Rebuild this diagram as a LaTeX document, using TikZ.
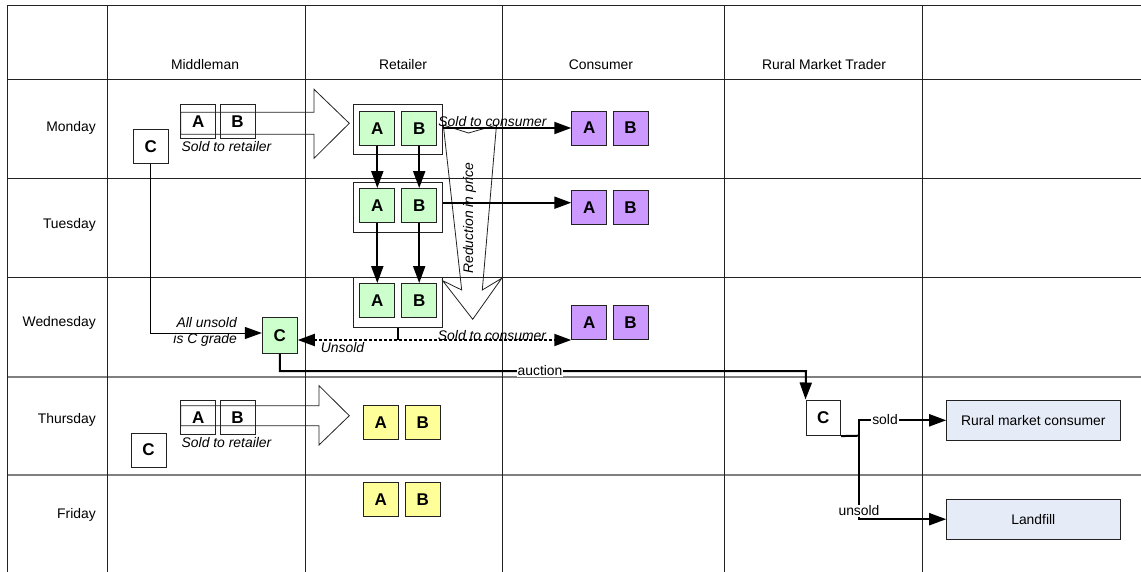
\documentclass[tikz,border=0pt]{standalone}
\usepackage{fontspec}
\setmainfont{Liberation Sans}
\usetikzlibrary{arrows.meta}
\definecolor{lgreen}{HTML}{CCFFCC}
\definecolor{lpurple}{HTML}{CC99FF}
\definecolor{lyellow}{HTML}{FFFF99}
\definecolor{lblue}{HTML}{E6ECF7}
\definecolor{gline}{HTML}{222222}
\definecolor{gline2}{HTML}{808080}
\begin{document}
\begin{tikzpicture}[x=1pt,y=-1pt,
  txt/.style={font=\fontsize{13.9}{16.7}\selectfont, inner sep=0pt},
  itx/.style={font=\fontsize{13.9}{16.7}\selectfont\itshape, inner sep=0pt},
  lbl/.style={font=\fontsize{13.9}{16.7}\selectfont, inner sep=1pt, fill=white},
  lbox/.style={draw=gline, line width=0.9pt, inner sep=0pt, minimum width=35pt, minimum height=34pt, font=\fontsize{17}{18}\selectfont\bfseries},
  wbox/.style={lbox, fill=white},
  gbox/.style={lbox, fill=lgreen},
  pbox/.style={lbox, fill=lpurple},
  ybox/.style={lbox, fill=lyellow},
  obox/.style={draw=gline, line width=0.9pt, inner sep=0pt, minimum width=89.4pt, minimum height=50pt},
  dbox/.style={draw=gline, line width=0.9pt, fill=lblue, inner sep=0pt, minimum width=173.3pt, minimum height=39.5pt, font=\fontsize{13.9}{16.7}\selectfont},
  gridl/.style={draw=gline, line width=0.9pt},
  gridg/.style={draw=gline2, line width=1.5pt},
  blk/.style={draw=gline, line width=0.8pt},
  arr/.style={line width=2pt, -{Triangle[length=17pt,width=12pt]}},
  tharr/.style={line width=1pt, -{Triangle[length=17pt,width=12pt]}},
  dotarr/.style={line width=2pt, dash pattern=on 3pt off 2pt, {Triangle[length=17pt,width=12pt]}-{Triangle[length=17pt,width=12pt]}}
]
\useasboundingbox (0,0) rectangle (1141,572);
\fill[white] (0,0) rectangle (1141,572);
% grid
\draw[gridl] (7,5) -- (1141,5);
\draw[gridl] (7,79) -- (1141,79);
\draw[gridl] (7,178) -- (1141,178);
\draw[gridl] (7,277) -- (1141,277);
\draw[gridg] (7,377) -- (1141,377);
\draw[gridg] (7,475) -- (1141,475);
\foreach \xx in {7,107,305,502,724,922} \draw[gridl] (\xx,5) -- (\xx,572);
% headers
\node[txt] (hMid) at (205,65) {Middleman};
\node[txt] (hRet) at (403,65) {Retailer};
\node[txt] (hCon) at (601,65) {Consumer};
\node[txt] (hRMT) at (824,65) {Rural Market Trader};
\node[txt, anchor=east] (dMon) at (96,128) {Monday};
\node[txt, anchor=east] (dTue) at (96,225) {Tuesday};
\node[txt, anchor=east] (dWed) at (96,323) {Wednesday};
\node[txt, anchor=east] (dThu) at (96,420) {Thursday};
\node[txt, anchor=east] (dFri) at (96,515) {Friday};
% Monday middleman
\node[wbox] (mA) at (198.2,121.3) {A};
\node[wbox] (mB) at (237.5,121.3) {B};
\node[wbox] (mC) at (150.8,146.2) {C};
\draw[blk] (180.7,112.3) -- (314,112.3) -- (314,89.3) -- (349.3,123.3) -- (314,158.3) -- (314,134.3) -- (180.7,134.3) -- cycle;
\node[itx, anchor=west] (sMon) at (181.5,146.7) {Sold to retailer};
% Thursday middleman
\node[wbox] (tA) at (198.2,417.9) {A};
\node[wbox] (tB) at (237.5,417.9) {B};
\node[wbox] (tC) at (148.5,450) {C};
\draw[blk] (180.7,405.7) -- (319,405.7) -- (319,385.7) -- (349.3,415.7) -- (319,445) -- (319,425.7) -- (180.7,425.7) -- cycle;
\node[itx, anchor=west] (sThu) at (181.5,442.3) {Sold to retailer};
% retailer
\node[obox] (rMon) at (398,129.2) {};
\node[gbox] (rMA) at (377.3,128.7) {A};
\node[gbox] (rMB) at (419.2,128.7) {B};
\node[obox] (rTue) at (398,207.3) {};
\node[gbox] (rTA) at (377.3,205.5) {A};
\node[gbox] (rTB) at (419.2,205.5) {B};
\node[obox] (rWed) at (398,302.5) {};
\node[gbox] (rWA) at (377.3,300.5) {A};
\node[gbox] (rWB) at (419.2,300.5) {B};
\draw[arr] (rMA.south) -- (rTA.north);
\draw[arr] (rMB.south) -- (rTB.north);
\draw[arr] (rTA.south) -- (rWA.north);
\draw[arr] (rTB.south) -- (rWB.north);
% yellow
\node[ybox] (yTA) at (380.8,422.8) {A};
\node[ybox] (yTB) at (422.8,422.8) {B};
\node[ybox] (yFA) at (380.8,499.5) {A};
\node[ybox] (yFB) at (422.8,499.5) {B};
% reduction in price arrow
\draw[blk] (443.3,125) -- (468.5,133) -- (496.5,125) -- (482.3,290) -- (501.7,278.3) -- (472.7,319.3) -- (442.7,280.7) -- (461.7,290) -- cycle;
\node[itx, rotate=90] (rip) at (469.5,218) {Reduction in price};
% consumer
\node[pbox] (pMA) at (589.2,128) {A};
\node[pbox] (pMB) at (630.5,128) {B};
\node[pbox] (pTA) at (589.2,207.5) {A};
\node[pbox] (pTB) at (630.5,207.5) {B};
\node[pbox] (pWA) at (589.2,322.5) {A};
\node[pbox] (pWB) at (630.5,322.5) {B};
\draw[arr] (rMon.east |- pMA.west) -- (pMA.west);
\node[itx] (scMon) at (492.5,121.5) {Sold to consumer};
\coordinate (tue1) at (442.7,202.7);
\draw[arr] (tue1) -- (tue1 -| pTA.west);
% Wednesday
\node[gbox, minimum width=35pt, minimum height=36pt] (gC) at (279.8,335.6) {C};
\coordinate (cin) at (200,333);
\draw[tharr] (mC.south) |- (cin -| gC.west);
\node[itx, anchor=east, align=right] (allu) at (237,332) {All unsold\\is C grade};
\coordinate (dl) at (398,340);
\draw[line width=1.2pt] (rWed.south) -- (dl);
\draw[dotarr] (dl -| gC.east) -- (dl -| pWA.west);
\node[itx, anchor=west] (uns) at (320.7,348) {Unsold};
\node[itx] (scWed) at (492,335.5) {Sold to consumer};
% auction
\node[wbox, minimum width=34.7pt, minimum height=35.7pt] (rC) at (823.3,417.8) {C};
\coordinate (ac) at (806,371);
\draw[arr] (gC.south) |- (ac) -- (rC.north west);
\node[lbl] (auc) at (540,370.5) {auction};
% rural market
\node[dbox] (rmc) at (1033.3,420.3) {Rural market consumer};
\node[dbox] (lf) at (1033.3,519.2) {Landfill};
\coordinate (sp) at (859,435.7);
\draw[line width=2pt] (rC.south east) -- (sp);
\draw[arr] (sp) |- (rmc.west);
\draw[arr] (sp) |- (lf.west);
\node[lbl] (sld) at (885,420) {sold};
\node[lbl, inner sep=0.5pt] (usd) at (859,511) {unsold};
\end{tikzpicture}
\end{document}
